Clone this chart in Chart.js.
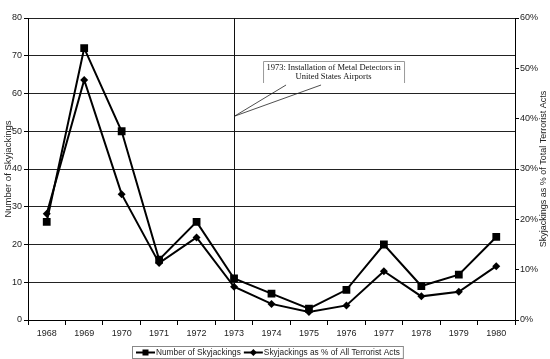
<!DOCTYPE html>
<html><head><meta charset="utf-8">
<style>html,body{margin:0;padding:0;background:#fff}#wrap{width:550px;height:359px}</style>
<script src="https://cdn.jsdelivr.net/npm/chart.js@4"></script>
</head><body><div id="wrap"><canvas id="c" width="550" height="359"></canvas></div>
<script>
const years = ['1968','1969','1970','1971','1972','1973','1974','1975','1976','1977','1978','1979','1980'];
const skyjackings = [26,72,50,16,26,11,7,3,8,20,9,12,22];
const pctOfTerrorist = [21.1,47.7,25,11.3,16.4,6.6,3.2,1.6,2.9,9.7,4.7,5.6,10.7];
const seriesNames = ['Number of Skyjackings','Skyjackings as % of All Terrorist Acts'];
const axisTitles = ['Number of Skyjackings','Skyjackings as % of Total Terrorist Acts'];
const annotationLines = ['1973: Installation of Metal Detectors in','United States Airports'];
const annotationYear = '1973';
const annotationValue = 54;

const SANS = '"Liberation Sans", Arial, sans-serif';
const SERIF = '"Liberation Serif", "Times New Roman", serif';
const TXT = '#222';

function drawMarker(ctx, style, x, y) {
  ctx.fillStyle = '#000';
  ctx.beginPath();
  if (style === 'rect') {
    ctx.rect(x - 3, y - 3, 6, 6);
  } else {
    ctx.moveTo(x, y - 3.5); ctx.lineTo(x + 3.5, y); ctx.lineTo(x, y + 3.5); ctx.lineTo(x - 3.5, y); ctx.closePath();
  }
  ctx.fill();
}

const extras = {
  id: 'extras',
  beforeDatasetsDraw(chart) {
    const ctx = chart.ctx, a = chart.chartArea;
    const x = Math.round(chart.scales.x.getPixelForValue(years.indexOf(annotationYear))) + 0.5;
    ctx.save();
    ctx.strokeStyle = '#111'; ctx.lineWidth = 1;
    ctx.beginPath(); ctx.moveTo(x, a.top); ctx.lineTo(x, a.bottom); ctx.stroke();
    ctx.restore();
  },
  afterDraw(chart) {
    const ctx = chart.ctx, a = chart.chartArea;
    ctx.save();
    // annotation
    const ax = chart.scales.x.getPixelForValue(years.indexOf(annotationYear));
    const ay = chart.scales.y.getPixelForValue(annotationValue);
    const bl = ax + 29, bt = a.top + 43, bw = 141, bh = 22;
    ctx.fillStyle = '#fff';
    ctx.fillRect(bl, bt, bw, bh);
    ctx.strokeStyle = '#999'; ctx.lineWidth = 1;
    ctx.beginPath();
    ctx.moveTo(bl + 0.5, bt + bh); ctx.lineTo(bl + 0.5, bt + 0.5); ctx.lineTo(bl + bw + 0.5, bt + 0.5); ctx.lineTo(bl + bw + 0.5, bt + bh);
    ctx.stroke();
    ctx.strokeStyle = '#222'; ctx.lineWidth = 0.8;
    ctx.beginPath();
    ctx.moveTo(bl + 23, bt + bh + 2); ctx.lineTo(ax + 0.5, ay);
    ctx.lineTo(bl + 58, bt + bh + 2);
    ctx.stroke();
    ctx.fillStyle = '#111';
    ctx.font = '8.5px ' + SERIF;
    ctx.textAlign = 'center'; ctx.textBaseline = 'middle';
    ctx.fillText(annotationLines[0], bl + bw / 2, bt + 7);
    ctx.fillText(annotationLines[1], bl + bw / 2, bt + 15.5);
    // axis titles
    ctx.fillStyle = TXT;
    const cy = (a.top + a.bottom) / 2;
    ctx.font = '9.5px ' + SANS;
    ctx.save(); ctx.translate(8, cy); ctx.rotate(-Math.PI / 2); ctx.fillText(axisTitles[0], 0, 0); ctx.restore();
    ctx.font = '9px ' + SANS;
    ctx.save(); ctx.translate(544, cy); ctx.rotate(-Math.PI / 2); ctx.fillText(axisTitles[1], 0, 0); ctx.restore();
    // legend
    ctx.font = '8.3px ' + SANS;
    ctx.textAlign = 'left';
    const ly = 352.5;
    let x = 136;
    const startX = 132;
    const styles = ['rect', 'rectRot'];
    const positions = [];
    seriesNames.forEach((n) => {
      positions.push(x);
      x += 19 + 1 + ctx.measureText(n).width + 3;
    });
    const endX = x;
    ctx.strokeStyle = '#888'; ctx.lineWidth = 1;
    ctx.strokeRect(startX + 0.5, 346.5, endX - startX, 12);
    seriesNames.forEach((n, i) => {
      const px = positions[i];
      ctx.strokeStyle = '#000'; ctx.lineWidth = 2;
      ctx.beginPath(); ctx.moveTo(px, ly); ctx.lineTo(px + 19, ly); ctx.stroke();
      drawMarker(ctx, styles[i], px + 9.5, ly);
      ctx.fillStyle = TXT;
      ctx.fillText(n, px + 20, ly + 0.5);
    });
    ctx.restore();
  }
};

new Chart(document.getElementById('c'), {
  type: 'line',
  data: {
    labels: years,
    datasets: [
      { label: seriesNames[0], data: skyjackings, yAxisID: 'y', borderColor: '#000', backgroundColor: '#000', borderWidth: 2, pointStyle: 'rect', pointRadius: 5.5, pointBorderWidth: 0, tension: 0 },
      { label: seriesNames[1], data: pctOfTerrorist, yAxisID: 'y1', borderColor: '#000', backgroundColor: '#000', borderWidth: 2, pointStyle: 'rectRot', pointRadius: 4, pointBorderWidth: 0, tension: 0 }
    ]
  },
  options: {
    responsive: false, animation: false, devicePixelRatio: 1,
    layout: { padding: { top: 18, left: 0, right: 0, bottom: 0 } },
    plugins: { legend: { display: false }, tooltip: { enabled: false } },
    scales: {
      x: {
        offset: true,
        grid: { offset: true, drawOnChartArea: false, tickLength: 5, color: '#000' },
        border: { color: '#000' },
        ticks: { font: { size: 9, family: SANS }, color: TXT, padding: 3, maxRotation: 0, autoSkip: false },
        afterFit(s) { s.height = 39; }
      },
      y: {
        position: 'left', min: 0, max: 80,
        grid: { color: '#222', tickLength: 4, tickColor: '#000' },
        border: { color: '#000' },
        ticks: { stepSize: 10, font: { size: 9, family: SANS }, color: TXT, padding: 2 },
        afterFit(s) { s.width = 28; }
      },
      y1: {
        position: 'right', min: 0, max: 60,
        grid: { drawOnChartArea: false, tickLength: 4, color: '#000' },
        border: { color: '#000' },
        ticks: { stepSize: 10, font: { size: 9, family: SANS }, color: TXT, padding: 1, callback: v => v + '%' },
        afterFit(s) { s.width = 35; }
      }
    }
  },
  plugins: [extras]
});
</script>
</body></html>
